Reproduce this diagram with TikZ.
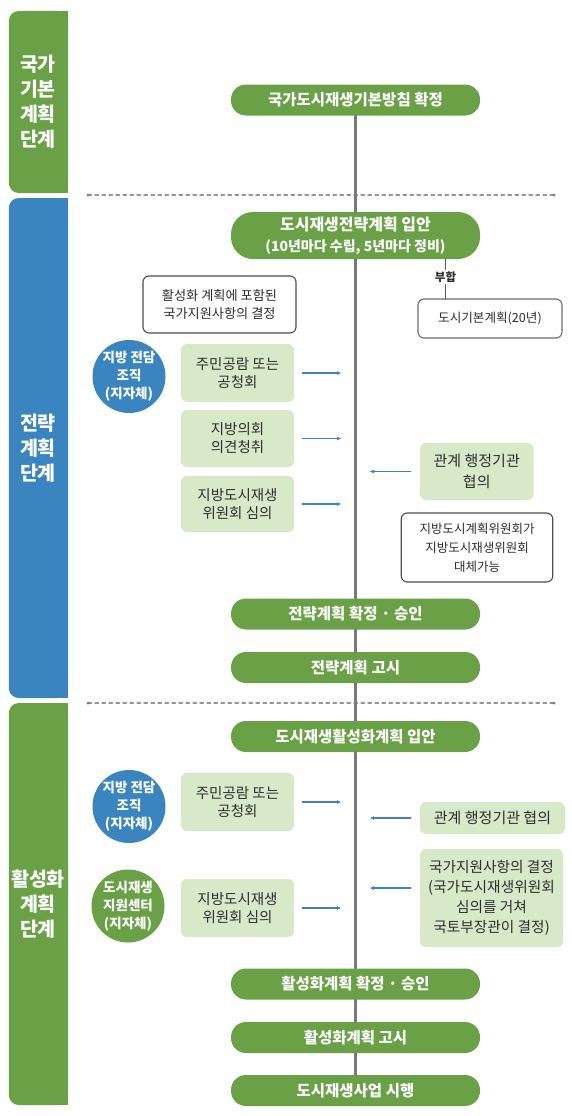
\documentclass[tikz,border=0pt]{standalone}
\usepackage{fontspec}
\setmainfont{Noto Sans CJK KR}
\usetikzlibrary{arrows.meta}
\definecolor{regenGreen}{HTML}{6AA147}
\definecolor{regenBlue}{HTML}{3A85BF}
\definecolor{regenSoft}{HTML}{D7E9C8}
\definecolor{regenInk}{HTML}{2E2E2E}
\definecolor{regenGray}{HTML}{7A7A7A}
\definecolor{regenArrow}{HTML}{3F82C4}

\begin{document}
\begin{tikzpicture}[x=1pt,y=-1pt,>=Latex,line cap=round,line join=round]
\path[fill=white] (0,0) rectangle (572,1116);
\useasboundingbox (0,0) rectangle (572,1116);
\tikzset{pill/.style={fill=regenGreen,rounded corners=15pt,minimum width=249pt,minimum height=31pt,inner sep=0pt,text=white,font=\bfseries\fontsize{15.5}{18}\selectfont},
 softbox/.style={fill=regenSoft,rounded corners=6pt,minimum width=113pt,inner sep=0pt,align=center,text=regenInk,font=\fontsize{14.5}{18}\selectfont},
 notebox/.style={draw=regenInk!85,line width=1.1pt,fill=white,rounded corners=6pt,inner sep=0pt,align=center,text=regenInk,font=\fontsize{13.2}{17.5}\selectfont},
 agency/.style={circle,minimum size=73pt,inner sep=0pt,align=center,text=white,font=\bfseries\fontsize{13.5}{18}\selectfont},
 stagetext/.style={align=center,text=white,font=\bfseries\fontsize{19.5}{25}\selectfont},
 spine/.style={draw=regenGray,line width=2.6pt},
 feedarrow/.style={draw=regenArrow,line width=1.2pt,-{Latex[length=4.5pt,width=4pt]}},
 stageline/.style={draw=regenGray!80,line width=1.1pt,dash pattern=on 3.5pt off 3.5pt}}
% stage bars
\fill[regenGreen,rounded corners=10pt] (8.8,11) rectangle (68,193);
\fill[regenGreen] (40,11) rectangle (68,193);
\fill[regenBlue,rounded corners=10pt] (8.8,198) rectangle (68,698);
\fill[regenBlue] (40,198) rectangle (68,698);
\fill[regenGreen,rounded corners=10pt] (8.8,703) rectangle (68,1105);
\fill[regenGreen] (40,703) rectangle (68,1105);
\node[stagetext] (stageNational) at (38,102) {국가\\기본\\계획\\단계};
\node[stagetext] (stageStrategy) at (38,448) {전략\\계획\\단계};
\node[stagetext] (stageActivation) at (38,904) {활성화\\계획\\단계};
% stage separators
\draw[stageline] (88,195) -- (554,195);
\fill[regenGray] (88,195) circle (1.5) (554,195) circle (1.5);
\draw[stageline] (88,703) -- (554,703);
\fill[regenGray] (88,703) circle (1.5) (554,703) circle (1.5);
% main flow
\node[pill] (basicPolicy) at (355.5,100) {국가도시재생기본방침 확정};
\node[pill,minimum height=47pt,rounded corners=22pt,align=center,font=\bfseries\fontsize{16}{21}\selectfont] (strategyDraft) at (355.5,235.5) {도시재생전략계획 입안\\{\fontsize{14}{16}\selectfont (10년마다 수립, 5년마다 정비)}};
\node[pill] (strategyFixed) at (355.5,614) {전략계획 확정 · 승인};
\node[pill] (strategyNotice) at (355.5,667.5) {전략계획 고시};
\node[pill] (activationDraft) at (355.5,736.5) {도시재생활성화계획 입안};
\node[pill] (activationFixed) at (355.5,984) {활성화계획 확정 · 승인};
\node[pill] (activationNotice) at (355.5,1037.5) {활성화계획 고시};
\node[pill] (projectRun) at (355.5,1090.5) {도시재생사업 시행};
\foreach \a/\b in {basicPolicy/strategyDraft,strategyDraft/strategyFixed,strategyFixed/strategyNotice,strategyNotice/activationDraft,activationDraft/activationFixed,activationFixed/activationNotice,activationNotice/projectRun}
  \draw[spine] (\a.south) -- (\b.north);
\coordinate (spineAxis) at (355.5,0);
% strategy stage
\node[notebox,minimum width=144pt,minimum height=39pt,draw=regenInk!70,font=\fontsize{12.6}{16}\selectfont] (cityPlan) at (490,318.5) {도시기본계획(20년)};
\node[text=regenInk,font=\bfseries\fontsize{11.5}{13}\selectfont,inner sep=2pt] (conform) at (445.5,277) {부합};
\draw[draw=regenInk!80,line width=1.2pt] (strategyDraft.south -| conform.north) -- (conform.north);
\draw[draw=regenInk!80,line width=1.2pt] (conform.south) -- (conform.south |- cityPlan.north);
\node[notebox,minimum width=153pt,minimum height=57pt] (supportNote) at (219.5,304.5) {활성화 계획에 포함된\\국가지원사항의 결정};
\node[agency,fill=regenBlue] (localOrgA) at (129,376.5) {지방 전담\\조직\\(지자체)};
\node[softbox,minimum height=58pt] (hearingA) at (237.5,373) {주민공람 또는\\공청회};
\node[softbox,minimum height=57pt] (councilView) at (237.5,438.5) {지방의회\\의견청취};
\node[softbox,minimum height=56pt] (localReviewA) at (237.5,504) {지방도시재생\\위원회 심의};
\node[softbox,minimum width=113.5pt,minimum height=57pt,font=\fontsize{15}{21}\selectfont] (agencyTalkA) at (476.75,471.5) {관계 행정기관\\협의};
\node[notebox,minimum width=151.5pt,minimum height=69pt,font=\fontsize{12.5}{19}\selectfont] (committeeNote) at (477,547.5) {지방도시계획위원회가\\지방도시재생위원회\\대체가능};
\draw[feedarrow,shorten >=14pt] ([xshift=8]hearingA.east) -- (hearingA.east -| spineAxis);
\draw[feedarrow,shorten >=14pt] ([xshift=8]councilView.east) -- (councilView.east -| spineAxis);
\draw[feedarrow,shorten >=14pt] ([xshift=8]localReviewA.east) -- (localReviewA.east -| spineAxis);
\draw[feedarrow,shorten >=14pt] ([xshift=-9]agencyTalkA.west) -- (agencyTalkA.west -| spineAxis);
% activation stage
\node[agency,fill=regenBlue] (localOrgB) at (129,806.5) {지방 전담\\조직\\(지자체)};
\node[softbox,minimum height=58pt] (hearingB) at (237.5,802) {주민공람 또는\\공청회};
\node[softbox,minimum width=145pt,minimum height=32pt,font=\fontsize{15}{18}\selectfont] (agencyTalkB) at (492.5,818) {관계 행정기관 협의};
\node[agency,fill=regenGreen] (supportCenter) at (128,906) {도시재생\\지원센터\\(지자체)};
\node[softbox,minimum height=58pt] (localReviewB) at (237.5,908) {지방도시재생\\위원회 심의};
\node[softbox,minimum width=143pt,minimum height=98pt,font=\fontsize{14.7}{20}\selectfont] (nationalDecision) at (491.5,898) {국가지원사항의 결정\\(국가도시재생위원회\\심의를 거쳐\\국토부장관이 결정)};
\coordinate (decisionPort) at ([yshift=10]nationalDecision.west);
\draw[feedarrow,shorten >=14pt] ([xshift=8]hearingB.east) -- (hearingB.east -| spineAxis);
\draw[feedarrow,shorten >=14pt] ([xshift=-9]agencyTalkB.west) -- (agencyTalkB.west -| spineAxis);
\draw[feedarrow,shorten >=14pt] ([xshift=8]localReviewB.east) -- (localReviewB.east -| spineAxis);
\draw[feedarrow,shorten >=14pt] ([xshift=-9]decisionPort) -- (decisionPort -| spineAxis);
\end{tikzpicture}
\end{document}
